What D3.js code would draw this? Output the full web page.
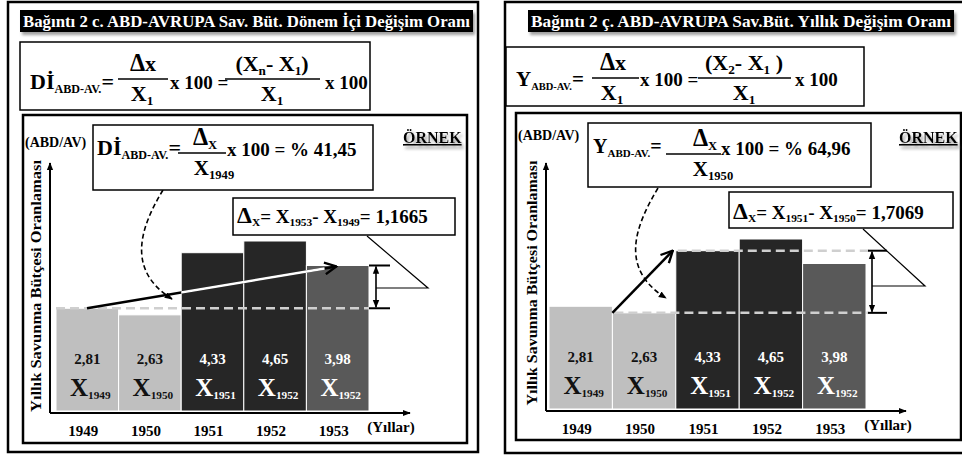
<!DOCTYPE html>
<html>
<head>
<meta charset="utf-8">
<script src="https://cdn.jsdelivr.net/npm/d3@7"></script>
<style>
  body { margin: 0; background: #fff; }
  svg { display: block; }
  text { font-family: "Liberation Serif", "Times New Roman", serif; font-weight: bold; }
</style>
</head>
<body>
<svg width="962" height="456"></svg>
<script>

// data
const years = ["1949", "1950", "1951", "1952", "1953"];
const values = [2.81, 2.63, 4.33, 4.65, 3.98];
const valueLabels = ["2,81", "2,63", "4,33", "4,65", "3,98"];
const barSubs = ["1949", "1950", "1951", "1952", "1952"];
const yTitle = "Yıllık Savunma Bütçesi Oranlaması";
const yUnit = "(ABD/AV)";
const xUnit = "(Yıllar)";

const svg = d3.select("svg");
const defs = svg.append("defs");

const shadow = defs.append("filter").attr("id", "shadow")
    .attr("x", "-10%").attr("y", "-30%").attr("width", "130%").attr("height", "190%");
shadow.append("feDropShadow").attr("dx", 2).attr("dy", 3)
    .attr("stdDeviation", 1.5).attr("flood-color", "#777").attr("flood-opacity", 0.7);

defs.append("marker").attr("id", "open")
    .attr("markerUnits", "userSpaceOnUse").attr("markerWidth", 14).attr("markerHeight", 14)
    .attr("viewBox", "0 0 12 12").attr("refX", 11).attr("refY", 6).attr("orient", "auto")
    .append("path").attr("d", "M1,1 L11,6 L1,11").attr("fill", "none")
    .attr("stroke", "#000").attr("stroke-width", 2);

defs.append("marker").attr("id", "tri")
    .attr("markerUnits", "userSpaceOnUse").attr("markerWidth", 8).attr("markerHeight", 8)
    .attr("viewBox", "0 0 10 10").attr("refX", 9).attr("refY", 5).attr("orient", "auto-start-reverse")
    .append("path").attr("d", "M0,1 L10,5 L0,9 Z").attr("fill", "#000");

// text with subscripts: "_abc" is a subscript, {t, s} is a scaled run
function rich(g, x, y, parts, size, anchor, fill, subScale, drop) {
    const t = g.append("text").attr("x", x).attr("y", y)
        .attr("font-size", size).attr("text-anchor", anchor || "start")
        .attr("fill", fill || "#000");
    const sc = subScale || 0.55;
    const dr = size * (drop || 0.18);
    let down = false;
    parts.forEach(p => {
        const obj = typeof p === "object";
        const sub = !obj && p.startsWith("_");
        const s = t.append("tspan").text(obj ? p.t : (sub ? p.slice(1) : p));
        if (sub) s.attr("font-size", size * sc);
        if (obj) s.attr("font-size", size * p.s);
        if (sub && !down) { s.attr("dy", dr); down = true; }
        else if (!sub && down) { s.attr("dy", -dr); down = false; }
    });
    return t;
}

function frac(g, x0, x1, ly, num, numX, den, denX, size, subScale) {
    g.append("line").attr("x1", x0).attr("x2", x1).attr("y1", ly).attr("y2", ly)
        .attr("stroke", "#000").attr("stroke-width", 1.6);
    rich(g, numX, ly - 8, num, size, "middle", "#000", subScale);
    rich(g, denX, ly + 22, den, size, "middle", "#000", subScale);
}

function box(g, b, w) {
    return g.append("rect").attr("x", b[0]).attr("y", b[1]).attr("width", b[2]).attr("height", b[3])
        .attr("fill", "#fff").attr("stroke", "#000").attr("stroke-width", w || 1.5);
}

function panel(c) {
    const g = svg.append("g");

    box(g, c.frame, 2.5);
    box(g, c.fbox, 1.5);
    box(g, c.inner, 2.5);

    // title bar
    g.append("rect").attr("x", c.titleBox[0]).attr("y", c.titleBox[1])
        .attr("width", c.titleBox[2]).attr("height", c.titleBox[3])
        .attr("fill", "#000").attr("filter", "url(#shadow)");
    g.append("text").attr("x", c.titleBox[0] + c.titleBox[2] / 2).attr("y", c.titleBox[1] + 17)
        .attr("text-anchor", "middle").attr("font-size", 16).attr("fill", "#fff")
        .attr("textLength", c.titleBox[2] - 6).attr("lengthAdjust", "spacingAndGlyphs")
        .text(c.title);

    // scales
    const x = d3.scaleBand().domain(years).range(c.xr).paddingInner(0);
    const y = d3.scaleLinear().domain([0, d3.max(values)]).range([c.yBase, c.yBase - 170]);
    const color = d3.scaleOrdinal().domain(years)
        .range(["#bfbfbf", "#bfbfbf", "#262626", "#262626", "#595959"]);
    const dark = d => d3.hsl(color(d)).l < 0.5;
    const bw = x.bandwidth();

    const clipId = "clip" + c.id;
    const clip = defs.append("clipPath").attr("id", clipId);

    const bars = g.selectAll("g.bar").data(years).enter().append("g").attr("class", "bar");
    bars.append("rect")
        .attr("x", d => x(d)).attr("width", bw)
        .attr("y", (d, i) => y(values[i])).attr("height", (d, i) => c.yBase - y(values[i]))
        .attr("fill", d => color(d)).attr("stroke", "#fff").attr("stroke-width", 1);
    years.forEach((d, i) => {
        if (dark(d)) clip.append("rect").attr("x", x(d)).attr("width", bw)
            .attr("y", y(values[i])).attr("height", c.yBase - y(values[i]));
    });
    bars.append("text")
        .attr("x", d => x(d) + bw / 2).attr("y", c.yBase - 47)
        .attr("text-anchor", "middle").attr("font-size", 15)
        .attr("fill", d => dark(d) ? "#fff" : "#111")
        .text((d, i) => valueLabels[i]);
    years.forEach((d, i) => {
        rich(g, x(d) + bw / 2 + 3, c.yBase - 15, ["X", "_" + barSubs[i]], 25, "middle",
            dark(d) ? "#fff" : "#111", 0.45, 0.1);
    });

    // dashed reference lines
    c.dashes.forEach(dl => {
        g.append("line").attr("x1", x(years[dl.from]) + (dl.dx || 0)).attr("x2", c.xr[1] + (dl.ext || 0))
            .attr("y1", y(values[dl.v])).attr("y2", y(values[dl.v]))
            .attr("stroke", "#cfcfcf").attr("stroke-width", 2.5).attr("stroke-dasharray", "9,5");
    });

    // axes
    g.append("line").attr("x1", c.axisX).attr("x2", c.axisX).attr("y1", c.axisY).attr("y2", c.axisTop)
        .attr("stroke", "#000").attr("stroke-width", 2).attr("marker-end", "url(#tri)");
    g.append("line").attr("x1", c.axisX).attr("x2", c.axisEnd).attr("y1", c.axisY).attr("y2", c.axisY)
        .attr("stroke", "#000").attr("stroke-width", 2).attr("marker-end", "url(#tri)");

    g.selectAll("text.tick").data(years).enter().append("text").attr("class", "tick")
        .attr("x", d => x(d) + bw / 2 - 4).attr("y", c.axisY + 23)
        .attr("text-anchor", "middle").attr("font-size", 15).text(d => d);
    g.append("text").attr("x", c.xr[1] + 22).attr("y", c.axisY + 19)
        .attr("text-anchor", "middle").attr("font-size", 15).text(xUnit);

    g.append("text").attr("transform", `translate(${c.axisX - 9},${c.yLabelMid}) rotate(-90)`)
        .attr("text-anchor", "middle").attr("font-size", 14)
        .attr("textLength", c.yLabelLen).attr("lengthAdjust", "spacingAndGlyphs")
        .text(yTitle);
    g.append("text").attr("x", c.unitX).attr("y", c.unitY).attr("font-size", 14).text(yUnit);

    g.append("text").attr("x", c.ornek[0]).attr("y", c.ornek[1]).attr("font-size", 16)
        .attr("text-decoration", "underline").attr("filter", "url(#shadow)").text("ÖRNEK");

    // change arrow
    const a = c.arrow;
    const ax0 = x(years[a.from]) + a.dx0, ay0 = y(values[a.from]);
    const ax1 = x(years[a.to]) + a.dx1, ay1 = y(values[a.to]) + a.dy1;
    g.append("line").attr("x1", ax0).attr("y1", ay0).attr("x2", ax1).attr("y2", ay1)
        .attr("stroke", "#000").attr("stroke-width", 2.5).attr("marker-end", "url(#open)");
    const k = 12 / Math.hypot(ax1 - ax0, ay1 - ay0);
    g.append("line").attr("x1", ax0).attr("y1", ay0)
        .attr("x2", ax1 - (ax1 - ax0) * k).attr("y2", ay1 - (ay1 - ay0) * k)
        .attr("stroke", "#fff").attr("stroke-width", 2.5).attr("clip-path", `url(#${clipId})`);

    // double arrow showing the difference
    const dd = c.diff;
    const dTop = y(values[dd.top]), dBot = y(values[dd.bot]);
    const vx = c.xr[1] + dd.dx;
    [dTop, dBot].forEach(v => g.append("line").attr("x1", c.xr[1] + dd.t0).attr("x2", c.xr[1] + dd.t1)
        .attr("y1", v).attr("y2", v).attr("stroke", "#000").attr("stroke-width", 2));
    g.append("line").attr("x1", vx).attr("x2", vx).attr("y1", dTop + 1).attr("y2", dBot - 1)
        .attr("stroke", "#000").attr("stroke-width", 1.6)
        .attr("marker-start", "url(#tri)").attr("marker-end", "url(#tri)");
    g.append("polyline").attr("points", c.callout).attr("fill", "none")
        .attr("stroke", "#000").attr("stroke-width", 1.2);

    // dashed curve from the example box
    g.append("path").attr("d", c.curve).attr("fill", "none").attr("stroke", "#000")
        .attr("stroke-width", 1.6).attr("stroke-dasharray", "5,3").attr("marker-end", "url(#tri)");

    box(g, c.exBox, 1.5);
    box(g, c.dBox, 1.5);

    c.formula(g);
}

panel({
    id: "L",
    frame: [8, 2, 470, 450], fbox: [20, 42, 350, 68], inner: [23, 115, 444, 328],
    titleBox: [20, 10, 453, 22],
    title: "Bağıntı 2 c. ABD-AVRUPA Sav. Büt. Dönem İçi Değişim Oranı",
    xr: [56, 369], yBase: 411, axisX: 50, axisY: 413, axisEnd: 410, axisTop: 163,
    yLabelMid: 286, yLabelLen: 252, unitX: 25, unitY: 147, ornek: [403, 143],
    dashes: [{ from: 0, v: 0, dx: 0, ext: 0 }],
    arrow: { from: 0, to: 4, dx0: 31, dx1: 30, dy1: 1 },
    diff: { top: 4, bot: 0, dx: 7, t0: 0, t1: 21 },
    callout: "367,236 428,288 376,288",
    curve: "M163,190 C140,228 126,270 172,299",
    exBox: [93, 125, 280, 65], dBox: [233, 198, 222, 37],
    formula: g => {
        rich(g, 30, 89, ["Dİ", "_ABD-AV.", "="], 22, "start", "#000", 0.55);
        frac(g, 118, 168, 79, [{ t: "Δ", s: 1.1 }, "x"], 143, ["X", "_1"], 142, 22, 0.6);
        rich(g, 170, 89, ["x 100 ="], 19);
        frac(g, 225, 320, 79, ["(X", "_n", "- X", "_1", ")"], 272, ["X", "_1"], 272, 22, 0.6);
        rich(g, 325, 89, ["x 100"], 19);

        rich(g, 97, 155, ["Dİ", "_ABD-AV.", "="], 22, "start", "#000", 0.55);
        frac(g, 178, 226, 153, [{ t: "Δ", s: 1.15 }, "_X"], 205, ["X", "_1949"], 214, 21, 0.6);
        rich(g, 227, 156, ["x 100 = % 41,45"], 19);

        rich(g, 237, 223, [{ t: "Δ", s: 1.25 }, "_X", "= X", "_1953", "- X", "_1949", "= 1,1665"], 19, "start", "#000", 0.6);
    }
});

panel({
    id: "R",
    frame: [505, 2, 470, 451], fbox: [506, 47, 358, 59], inner: [516, 113, 445, 327],
    titleBox: [528, 10, 426, 22],
    title: "Bağıntı 2 ç. ABD-AVRUPA Sav.Büt. Yıllık Değişim Oranı",
    xr: [549, 866], yBase: 409, axisX: 546, axisY: 411, axisEnd: 906, axisTop: 163,
    yLabelMid: 283, yLabelLen: 245, unitX: 518, unitY: 140, ornek: [899, 143],
    dashes: [{ from: 2, v: 2, dx: 2, ext: 5 }, { from: 1, v: 1, dx: 2, ext: 3 }],
    arrow: { from: 1, to: 2, dx0: 0, dx1: -3, dy1: 0 },
    diff: { top: 2, bot: 1, dx: 6, t0: 2, t1: 21 },
    callout: "863,229 925,286 872,286",
    curve: "M658,188 C636,225 618,268 666,298",
    exBox: [588, 123, 283, 64], dBox: [729, 192, 224, 36],
    formula: g => {
        rich(g, 516, 86, ["Y", "_ABD-AV.", "="], 21, "start", "#000", 0.5);
        frac(g, 592, 639, 78, [{ t: "Δ", s: 1.1 }, "x"], 613, ["X", "_1"], 612, 22, 0.6);
        rich(g, 640, 86, ["x 100 ="], 19);
        frac(g, 698, 791, 78, ["(X", "_2", "- X", "_1", " )"], 744, ["X", "_1"], 744, 22, 0.6);
        rich(g, 795, 86, ["x 100"], 19);

        rich(g, 593, 153, ["Y", "_ABD-AV.", "="], 20, "start", "#000", 0.55);
        frac(g, 666, 721, 154, [{ t: "Δ", s: 1.15 }, "_X"], 705, ["X", "_1950"], 713, 21, 0.6);
        rich(g, 721, 155, ["x 100 = % 64,96"], 19);

        rich(g, 733, 219, [{ t: "Δ", s: 1.25 }, "_X", "= X", "_1951", "- X", "_1950", "= 1,7069"], 19, "start", "#000", 0.6);
    }
});

</script>
</body>
</html>
